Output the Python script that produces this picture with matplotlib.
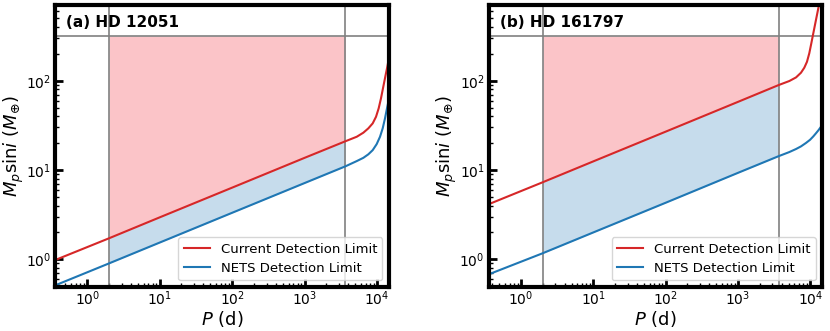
import numpy as np
import matplotlib
matplotlib.use("Agg")
import matplotlib.pyplot as plt

# values (P in days, M sin i in Earth masses)
# panel (a) HD 12051
P_CUR_A = [0.36, 2, 10, 100, 1000, 3650, 5240, 6460, 7570, 8690, 9660, 10510,
           11310, 12170, 12970, 13820, 14450, 14600]
M_CUR_A = [0.98, 1.72, 2.95, 6.35, 13.7, 21.0, 23.6, 26.2, 29.3, 33.3, 39.5, 49.1,
           63.5, 85.7, 111, 143, 174, 182]
P_NETS_A = [0.36, 2, 10, 100, 1000, 3650, 5240, 6460, 7570, 8690, 9860, 10970,
            11940, 12850, 13690, 14450, 14600]
M_NETS_A = [0.51, 0.90, 1.54, 3.32, 7.15, 11.0, 12.6, 13.7, 15.0, 16.7, 19.5, 23.6,
            29.3, 37.9, 49.1, 60.8, 63]

# panel (b) HD 161797
P_CUR_B = [0.36, 2, 10, 100, 1000, 3650, 5130, 6350, 7430, 8260, 8990, 9680,
           10320, 11000, 11720, 12490, 13310, 14600]
M_CUR_B = [4.15, 7.3, 12.5, 26.9, 58, 89.5, 99.3, 109, 123, 140, 163, 203,
           262, 340, 440, 569, 736, 2000]
P_NETS_B = [0.36, 2, 10, 100, 1000, 3650, 5130, 6350, 7430, 8710, 9910, 11000,
            11970, 13000, 14030, 14600]
M_NETS_B = [0.68, 1.17, 2.0, 4.3, 9.3, 14.3, 15.9, 17.2, 18.4, 20.1, 21.8, 23.8,
            25.8, 28.0, 30.5, 31.5]

TITLES = ["(a) HD 12051", "(b) HD 161797"]
P_LO, P_HI = 2, 3650      # period window (d)
M_JUP = 318               # Jupiter mass in Earth masses

fig = plt.figure(figsize=(8.3, 3.31), dpi=100)
ax1 = fig.add_axes([0.0663, 0.133, 0.4024, 0.851])
ax2 = fig.add_axes([0.589, 0.133, 0.4016, 0.851])

panels = [(ax1, P_CUR_A, M_CUR_A, P_NETS_A, M_NETS_A, TITLES[0]),
          (ax2, P_CUR_B, M_CUR_B, P_NETS_B, M_NETS_B, TITLES[1])]

for ax, pc, mc, pn, mn, title in panels:
    pc, mc, pn, mn = map(np.array, (pc, mc, pn, mn))
    wc = (pc >= P_LO) & (pc <= P_HI)
    wn = (pn >= P_LO) & (pn <= P_HI)
    # shaded regions inside the period window
    ax.fill_between(pc[wc], mc[wc], M_JUP, color='#fbc4c8', lw=0)
    ax.fill_between(pc[wc], mn[wn], mc[wc], color='tab:blue', alpha=0.25, lw=0)
    ax.axvline(P_LO, color='gray', lw=1.2)
    ax.axvline(P_HI, color='gray', lw=1.2)
    ax.axhline(M_JUP, color='gray', lw=1.2)
    ax.plot(pc, mc, color='tab:red', lw=1.5, label='Current Detection Limit')
    ax.plot(pn, mn, color='tab:blue', lw=1.5, label='NETS Detection Limit')

    ax.set_xscale('log')
    ax.set_yscale('log')
    ax.set_xlim(0.36, 14600)
    ax.set_ylim(0.49, 700)
    ax.set_xlabel(r'$P$ (d)', fontsize=13, labelpad=0.5)
    ax.set_ylabel(r'$M_p{\rm sin}i$ ($M_⊕$)', fontsize=13, labelpad=0)
    ax.tick_params(which='major', direction='in', length=6, width=2, labelsize=10)
    ax.tick_params(which='minor', direction='in', length=3, width=1)
    ax.tick_params(axis='x', pad=2)
    ax.tick_params(axis='y', pad=3)
    for s in ax.spines.values():
        s.set_linewidth(3)
    ax.text(0.033, 0.938, title, transform=ax.transAxes, fontsize=11,
            fontweight='bold', va='center', ha='left')
    ax.legend(loc='lower right', fontsize=9.5)

plt.savefig('out.png', dpi=100)
